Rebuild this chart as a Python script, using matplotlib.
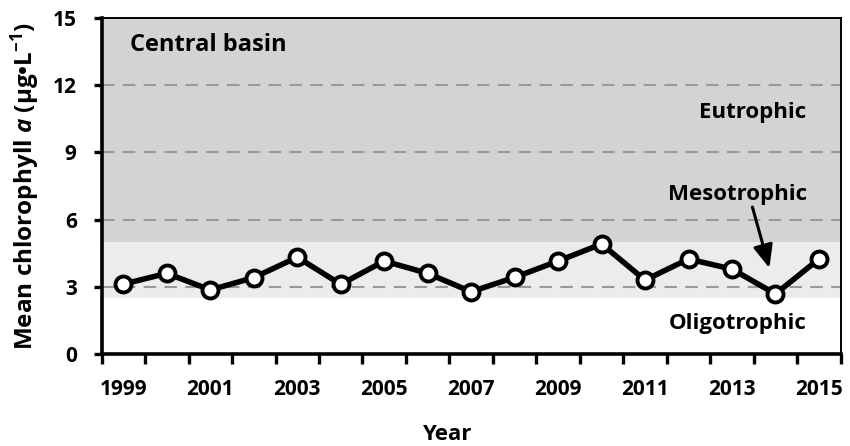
import matplotlib
matplotlib.use("Agg")
import matplotlib.pyplot as plt

years = [1999, 2000, 2001, 2002, 2003, 2004, 2005, 2006, 2007, 2008,
         2009, 2010, 2011, 2012, 2013, 2014, 2015]
chl = [3.12, 3.60, 2.86, 3.41, 4.32, 3.11, 4.15, 3.60, 2.78, 3.42,
       4.15, 4.91, 3.30, 4.24, 3.79, 2.68, 4.24]
y_ticks = [0, 3, 6, 9, 12, 15]
grid_levels = [3, 6, 9, 12]
oligo_upper = 2.5
meso_upper = 5.0
ymax = 15

FONT = 'Open Sans'
plt.rcParams['font.family'] = [FONT, 'DejaVu Sans']
plt.rcParams['font.weight'] = 'bold'
plt.rcParams['mathtext.fontset'] = 'custom'
plt.rcParams['mathtext.rm'] = FONT + ':bold'
plt.rcParams['mathtext.it'] = FONT + ':italic:bold'
plt.rcParams['mathtext.bf'] = FONT + ':bold'

fig = plt.figure(figsize=(8.5, 4.46), dpi=100)
ax = fig.add_axes([0.1196, 0.2063, 0.8694, 0.7533])

n = len(years)
xs = list(range(n))
ax.set_xlim(-0.5, n - 0.5)
ax.set_ylim(0, ymax)

ax.axhspan(oligo_upper, meso_upper, color='#ececec', zorder=0, lw=0)
ax.axhspan(meso_upper, ymax, color='#d3d3d3', zorder=0, lw=0)
for g in grid_levels:
    ax.axhline(g, color='#999999', lw=1.5, dashes=(6, 4), zorder=1)

ax.plot(xs, chl, color='black', lw=4, marker='o', markersize=11.5,
        markerfacecolor='white', markeredgecolor='black', markeredgewidth=2.8, zorder=3)

ax.set_xticks([i - 0.5 for i in range(n + 1)])
ax.set_xticklabels([])
ax.set_xticks(xs[::2], minor=True)
ax.set_xticklabels([str(y) for y in years[::2]], minor=True, fontweight='bold')
ax.tick_params(axis='x', which='major', direction='out', length=7, width=2.4)
ax.tick_params(axis='x', which='minor', length=0, pad=18, labelsize=15)
ax.set_yticks(y_ticks)
ax.set_yticklabels([str(v) for v in y_ticks], fontweight='bold')
ax.tick_params(axis='y', direction='out', length=6, width=2.4, labelsize=15, pad=12)

for s in ['left', 'bottom']:
    ax.spines[s].set_linewidth(2.6)
for s in ['top', 'right']:
    ax.spines[s].set_linewidth(1.4)

ax.set_xlabel('Year', fontsize=16, fontweight='bold', labelpad=17)
ax.xaxis.label.set_x(0.467)
ax.set_ylabel('Mean chlorophyll $\\mathit{a}$ (µg•L$^{-1}$)', fontsize=17.5,
              fontweight='bold', labelpad=8)

ax.text(0.15, 13.8, 'Central basin', fontsize=17, fontweight='bold', va='center', ha='left')
ax.text(15.72, 10.76, 'Eutrophic', fontsize=16, fontweight='bold', va='center', ha='right')
ax.text(15.72, 7.1, 'Mesotrophic', fontsize=16, fontweight='bold', va='center', ha='right')
ax.text(15.72, 1.34, 'Oligotrophic', fontsize=16, fontweight='bold', va='center', ha='right')

ax.annotate('', xy=(14.86, 3.84), xytext=(14.47, 6.56),
            arrowprops=dict(arrowstyle='-|>,head_length=1.4,head_width=0.6',
                            color='black', lw=2.2, shrinkA=0, shrinkB=0), zorder=4)

fig.savefig('out.png', dpi=100)
